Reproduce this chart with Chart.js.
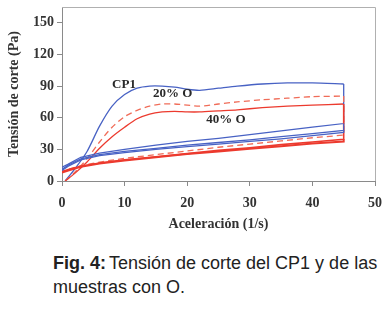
<!DOCTYPE html>
<html>
<head>
<meta charset="utf-8">
<script src="https://cdn.jsdelivr.net/npm/chart.js@4.4.1/dist/chart.umd.min.js"></script>
<style>
  body { margin: 0; background: #fff; width: 387px; height: 312px; overflow: hidden; position: relative; }
  #c { position: absolute; left: 0; top: 0; }
  #cap { position: absolute; left: 53px; top: 251px; font-family: "Liberation Sans", Arial, sans-serif;
         font-size: 18px; line-height: 24px; color: #222; white-space: nowrap; }
  #cap b { margin-right: 3px; }
</style>
</head>
<body>
<canvas id="c" width="387" height="240"></canvas>
<div id="cap"><b>Fig. 4:</b>Tensión de corte del CP1 y de las<br>muestras con O.</div>
<script>
// rising curves (ida)
const upX = [0.5, 2, 4, 6, 8, 10, 12, 14, 16, 18, 20, 22, 25, 28, 32, 36, 40, 45];
const cp1Up = [0, 11, 28, 52, 71, 82, 88, 90, 90, 89, 87, 86, 88, 90, 92, 93, 93, 92];
const o20Up = [0, 8, 21, 37, 51, 61, 67, 71, 73, 73, 72, 71, 73, 75, 77, 78.5, 80, 80.5];
const o40Up = [0, 7, 18, 31, 42, 51, 59, 63.5, 65.5, 66, 65.5, 65.5, 66.5, 67.5, 69.5, 71, 72, 73];

// return curves (vuelta), first point is the top of the drop at 45
const downX = [45, 45, 40, 35, 30, 25, 20, 15, 10, 6, 3, 1, 0];
const cp1Down = [92, 54.5, 51, 47.5, 44, 40.5, 37.5, 34, 30, 26.5, 22.5, 16, 13];
const cp1Down2 = [54.5, 48, 45, 42, 39, 36.5, 34, 31, 28, 25, 21, 15, 11];
const cp1Down3 = [48, 46, 43, 40, 37.5, 35, 32.5, 30, 27, 24, 20, 14, 10];
const o20Down = [80.5, 43.5, 41, 38, 35, 32, 28.5, 25, 21.5, 18, 14.5, 11, 9];
const o40Down = [73, 39.5, 37, 34.5, 31.5, 29, 26, 23, 20, 17, 14, 11, 9];
const o40Down2 = [39.5, 37.5, 35.5, 33, 30.5, 28, 25.5, 22.5, 19.5, 16.5, 13.5, 10, 8];

const labelText = ['CP1', '20% O', '40% O'];
const labelX = [9.9, 17.7, 26.2];
const labelY = [91, 83, 58];

const xTicks = [0, 10, 20, 30, 40, 50];
const yTicks = [0, 30, 60, 90, 120, 150];

const blue = 'rgb(72, 98, 196)';
const red = 'rgb(236, 58, 46)';
const redLight = 'rgb(240, 108, 88)';

const pts = (xs, ys) => ys.map((y, i) => ({ x: xs[i], y: y }));

const line = (data, color, opts) => Object.assign({
  data: data,
  borderColor: color,
  borderWidth: 1.3,
  pointRadius: 0,
  showLine: true,
  fill: false,
  tension: 0
}, opts || {});

const serif = '"Liberation Serif", "Times New Roman", serif';

const noPad = (s) => { s.paddingLeft = 0; s.paddingRight = 0; s.paddingTop = 0; s.paddingBottom = 0; };

const framePlugin = {
  id: 'frame',
  afterDraw(chart) {
    const a = chart.chartArea;
    const ctx = chart.ctx;
    ctx.save();
    ctx.strokeStyle = '#b0b0b0';
    ctx.lineWidth = 1;
    ctx.beginPath();
    ctx.moveTo(a.left, a.top + 0.5);
    ctx.lineTo(a.right + 0.5, a.top + 0.5);
    ctx.lineTo(a.right + 0.5, a.bottom);
    ctx.stroke();
    // curve labels
    ctx.fillStyle = '#2a2a2a';
    ctx.font = 'bold 13px ' + serif;
    ctx.textAlign = 'center';
    ctx.textBaseline = 'middle';
    const xs = chart.scales.x, ys = chart.scales.y;
    labelText.forEach((t, i) => {
      ctx.fillText(t, xs.getPixelForValue(labelX[i]), ys.getPixelForValue(labelY[i]));
    });
    ctx.restore();
  }
};

new Chart(document.getElementById('c'), {
  type: 'scatter',
  data: {
    datasets: [
      line(pts(downX, cp1Down3), blue),
      line(pts(downX, cp1Down2), blue),
      line(pts(downX, o40Down2), red, { borderWidth: 2 }),
      line(pts(downX, o40Down), red, { borderWidth: 1.6 }),
      line(pts(downX, o20Down), redLight, { borderDash: [6, 4] }),
      line(pts(downX, cp1Down), blue),
      line(pts(upX, o40Up), red, { tension: 0.25 }),
      line(pts(upX, o20Up), redLight, { tension: 0.25, borderDash: [6, 4] }),
      line(pts(upX, cp1Up), blue, { tension: 0.25 })
    ]
  },
  options: {
    responsive: false,
    animation: false,
    layout: { padding: { top: 7, right: 12, left: 0, bottom: 0 } },
    plugins: { legend: { display: false }, tooltip: { enabled: false } },
    scales: {
      x: {
        type: 'linear',
        min: 0,
        max: 50,
        afterBuildTicks: (s) => { s.ticks = xTicks.map(v => ({ value: v })); },
        afterFit: (s) => { s.height = 59; noPad(s); },
        ticks: { color: '#333', font: { family: serif, size: 14, weight: 'bold' }, padding: 9, maxRotation: 0 },
        grid: { drawOnChartArea: false, drawTicks: true, tickLength: 5, color: '#8a8a8a' },
        border: { color: '#8a8a8a', width: 1 },
        title: {
          display: true,
          text: 'Aceleración (1/s)',
          color: '#333',
          font: { family: serif, size: 14, weight: 'bold' },
          padding: { top: 0, bottom: 7 }
        }
      },
      y: {
        min: 0,
        max: 165,
        afterBuildTicks: (s) => { s.ticks = yTicks.map(v => ({ value: v })); },
        afterFit: (s) => { s.width = 62; noPad(s); },
        ticks: { color: '#333', font: { family: serif, size: 14, weight: 'bold' }, padding: 3 },
        grid: { drawOnChartArea: false, drawTicks: true, tickLength: 5, color: '#8a8a8a' },
        border: { color: '#8a8a8a', width: 1 },
        title: {
          display: true,
          text: 'Tensión de corte (Pa)',
          color: '#333',
          font: { family: serif, size: 14, weight: 'bold' },
          padding: { top: 6, bottom: 0 }
        }
      }
    }
  },
  plugins: [framePlugin]
});
</script>
</body>
</html>
